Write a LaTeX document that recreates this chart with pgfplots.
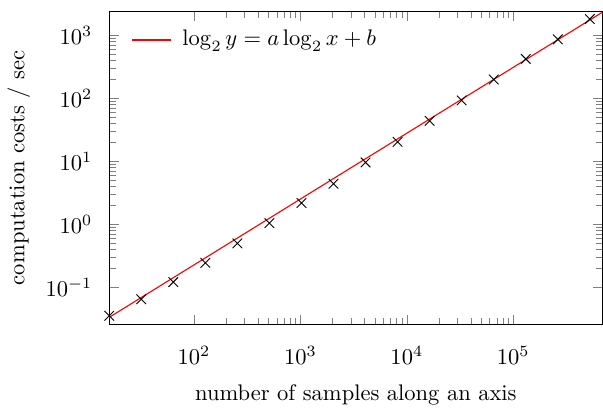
\documentclass[border=0pt]{standalone}
\usepackage{pgfplots}
\pgfplotsset{compat=1.18}

\begin{document}
\begin{tikzpicture}
\begin{loglogaxis}[
  scale only axis,
  width=219pt, height=139pt,
  xmin=16, xmax=690000,
  ymin=0.0255, ymax=2430,
  xlabel={number of samples along an axis},
  ylabel={computation costs / sec},
  xtick={100,1000,10000,100000},
  ytick={0.1,1,10,100,1000},
  xticklabel shift=6pt,
  yticklabel shift=4pt,
  xlabel style={yshift=-2pt},
  legend style={draw=white, fill=white, at={(0.03,0.97)}, anchor=north west},
  legend cell align=left,
]
\addlegendimage{red, line width=0.9pt}
\addlegendentry{\;$\log_2 y = a\log_2 x + b$}
% fitted line
\addplot[red, line width=0.5pt, forget plot] coordinates {(16,0.0330) (690000,2355)};
% measurements
\addplot[only marks, mark=x, mark size=3pt, black, forget plot] coordinates {
  (16,0.035) (32,0.064) (64,0.12) (128,0.243) (256,0.495) (512,1.04)
  (1024,2.17) (2048,4.4) (4096,9.6) (8192,20.4) (16384,44) (32768,93)
  (65536,200) (131072,425) (262144,870) (524288,1830)
};
\end{loglogaxis}
\path ([yshift=5pt]current axis.north);
\end{tikzpicture}
\end{document}
